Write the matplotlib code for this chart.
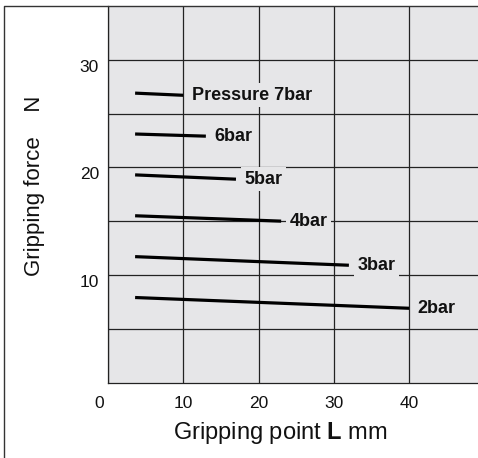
import matplotlib
matplotlib.use("Agg")
import matplotlib.pyplot as plt
from matplotlib.lines import Line2D
from matplotlib.transforms import ScaledTranslation

plt.rcParams['font.family'] = ['Liberation Sans', 'DejaVu Sans']
plt.rcParams['mathtext.fontset'] = 'custom'
plt.rcParams['mathtext.rm'] = 'Liberation Sans'
plt.rcParams['mathtext.bf'] = 'Liberation Sans:bold'

# gripping force vs gripping point, one line per pressure
labels = ['Pressure 7bar', '6bar', '5bar', '4bar', '3bar', '2bar']
x_start = [3.6, 3.6, 3.6, 3.6, 3.6, 3.6]
x_end = [10, 13, 17, 23, 32, 40]
f_start = [26.9, 23.1, 19.3, 15.5, 11.7, 7.9]
f_end = [26.7, 22.9, 18.9, 15.0, 10.9, 6.9]

x_ticks = [0, 10, 20, 30, 40]
y_ticks = [5, 10, 15, 20, 25, 30]
y_ticklabels = ['', '10', '', '20', '', '30']

bg = '#e6e6e8'
W, H = 478, 458
fig = plt.figure(figsize=(W / 100, H / 100), dpi=100)
ax = fig.add_axes([108 / W, (H - 382.5) / H, (W - 108) / W, (382.5 - 6) / H])
ax.set_facecolor(bg)
ax.set_xlim(0, 49.15)
ax.set_ylim(0, 35)

ax.set_xticks(x_ticks)
ax.set_xticklabels([str(v) for v in x_ticks])
ax.set_yticks(y_ticks)
ax.set_yticklabels(y_ticklabels)
ax.tick_params(length=0, labelsize=12.5, colors='#111111')
ax.tick_params(axis='x', pad=10)
ax.tick_params(axis='y', pad=6.5)
ax.grid(True, color='#222222', linewidth=0.9)
ax.set_axisbelow(True)
for s in ['right', 'top']:
    ax.spines[s].set_visible(False)
for s in ['left', 'bottom']:
    ax.spines[s].set_color('#222222')
    ax.spines[s].set_linewidth(0.9)

# tick label nudges seen in the original
for lab in ax.get_yticklabels():
    lab.set_transform(lab.get_transform() + ScaledTranslation(0, -6 / 100, fig.dpi_scale_trans))
xl = ax.get_xticklabels()[0]
xl.set_transform(xl.get_transform() + ScaledTranslation(-9 / 100, 0, fig.dpi_scale_trans))

for lab, x0, x1, y0, y1 in zip(labels, x_start, x_end, f_start, f_end):
    ax.plot([x0, x1], [y0, y1], color='black', linewidth=2.3, solid_capstyle='butt')
    ax.annotate(lab, xy=(x1, y1), xytext=(6, 0), textcoords='offset points',
                ha='left', va='center', fontsize=13, fontweight='bold', color='#111111',
                bbox=dict(facecolor=bg, edgecolor='none', pad=2.5))

fig.text(280 / W, 1 - 433 / H, r'Gripping point $\mathbf{L}$ mm', ha='center', va='center',
         fontsize=17, color='#111111')
fig.text(35 / W, 1 - 186 / H, 'Gripping force    N', rotation=90, ha='center', va='center',
         fontsize=16, color='#111111')

# outer frame (left and top edges visible)
fig.add_artist(Line2D([4 / W, 4 / W, 1], [0, 1 - 6 / H, 1 - 6 / H], transform=fig.transFigure,
                      color='#333333', linewidth=1.0))

fig.savefig('out.png', dpi=100)
